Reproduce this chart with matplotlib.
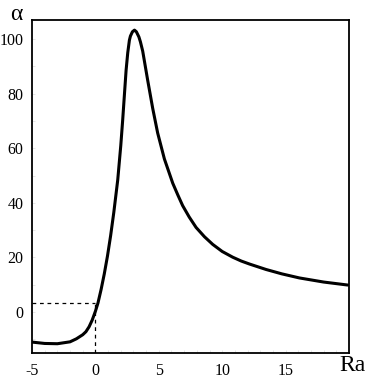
import matplotlib.pyplot as plt
import numpy as np

plt.rcParams['font.family'] = 'Liberation Serif'

# curve (Ra, alpha)
ra = [-5.0, -4.0, -3.0, -2.0, -1.5, -1.0, -0.75, -0.5, -0.25, 0.0, 0.2, 0.45,
      0.7, 0.95, 1.2, 1.45, 1.76, 2.0, 2.15, 2.3, 2.42, 2.55, 2.68, 2.76,
      2.92, 3.08, 3.23, 3.43, 3.55, 3.73, 4.12, 4.52, 4.91, 5.44, 6.10, 6.5,
      6.88, 7.4, 7.94, 8.6, 9.25, 10.0, 10.83, 11.5, 12.15, 13.46, 14.7, 16.09,
      18.0, 19.9]
alpha = [-11.0, -11.5, -11.6, -10.9, -9.8, -8.3, -7.2, -5.4, -2.9, 0.3, 3.3, 8.3,
         14.0, 20.5, 28.0, 36.5, 48.4, 61.0, 70.3, 80.5, 88.6, 95.0, 99.6, 101.1,
         102.7, 103.3, 102.7, 100.8, 99.0, 95.6, 85.0, 74.6, 65.6, 56.1, 47.2, 42.9,
         39.0, 34.8, 31.0, 27.6, 24.8, 22.2, 20.1, 18.7, 17.6, 15.6, 14.0, 12.5,
         11.0, 9.9]

marker_ra = 0.0
marker_alpha = 3.3

xticks = [-5, 0, 5, 10, 15]
yticks = [0, 20, 40, 60, 80, 100]

fig = plt.figure(figsize=(3.71, 3.82), dpi=100)
ax = fig.add_axes([0.0863, 0.0759, 0.8544, 0.8717])

ax.plot(ra, alpha, color='black', lw=2.2, solid_joinstyle='round', solid_capstyle='round')
ax.plot([-5, marker_ra], [marker_alpha, marker_alpha], color='black', lw=0.9, ls=(0, (3, 3)))
ax.plot([marker_ra, marker_ra], [-15, marker_alpha], color='black', lw=0.9, ls=(0, (3, 3)))

ax.set_xlim(-5, 20)
ax.set_ylim(-15, 107)
ax.set_xticks(xticks)
ax.set_xticklabels(['-5', '0', '5', '10', '15'])
ax.set_yticks(yticks)
ax.set_xticks(np.arange(-5, 21, 1), minor=True)
ax.set_yticks(np.arange(-10, 107, 10), minor=True)
ax.tick_params(which='both', direction='in', color='#dcdcdc', width=0.5)
ax.tick_params(which='major', length=2.5, labelsize=11.5, pad=6)
ax.tick_params(which='minor', length=2.5)
ax.tick_params(axis='x', which='major', pad=7)

for s in ax.spines.values():
    s.set_linewidth(1.3)

fig.text(0.045, 0.962, 'α', fontsize=17, ha='center', va='center')
fig.text(0.916, 0.042, 'Ra', fontsize=17, ha='left', va='center')

fig.savefig('out.png', dpi=100)
